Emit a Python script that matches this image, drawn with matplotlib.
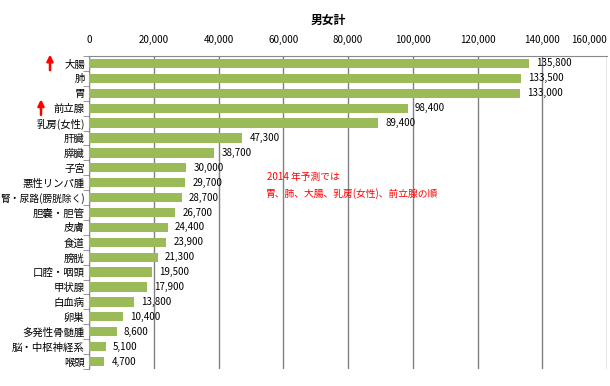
import matplotlib.pyplot as plt
import numpy as np

plt.rcParams['font.family'] = ['Noto Sans CJK JP', 'DejaVu Sans']

sites = ['大腸', '肺', '胃', '前立腺', '乳房(女性)', '肝臓', '膵臓', '子宮',
         '悪性リンパ腫', '腎・尿路(膀胱除く)', '胆嚢・胆管', '皮膚', '食道', '膀胱',
         '口腔・咽頭', '甲状腺', '白血病', '卵巣', '多発性骨髄腫', '脳・中枢神経系', '喉頭']
cases = [135800, 133500, 133000, 98400, 89400, 47300, 38700, 30000,
         29700, 28700, 26700, 24400, 23900, 21300,
         19500, 17900, 13800, 10400, 8600, 5100, 4700]
xticks = list(range(0, 160001, 20000))
arrow_rows = ['大腸', '前立腺']


def main():
    fig = plt.figure(figsize=(6.1, 3.86), dpi=100)
    ax = fig.add_axes([89 / 610, 1 - 369 / 386, (607 - 89) / 610, (369 - 56) / 386])

    y = np.arange(len(sites))
    ax.barh(y, cases, height=0.62, color='#9BBB59', zorder=3)
    for yi, v in zip(y, cases):
        ax.text(v + 2200, yi, f'{v:,}', va='center', ha='left', fontsize=7)

    ax.set_ylim(len(sites) - 0.5, -0.5)
    ax.set_xlim(0, 160000)
    ax.set_yticks(y)
    ax.set_yticklabels(sites, fontsize=7.5)
    ax.get_yticklabels()[sites.index('腎・尿路(膀胱除く)')].set_fontsize(7)
    ax.tick_params(axis='y', length=0, pad=3)
    ax.set_yticks(np.arange(-0.5, len(sites)), minor=True)
    ax.tick_params(axis='y', which='minor', length=4, color='#888888')

    ax.xaxis.tick_top()
    ax.set_xticks(xticks)
    ax.set_xticklabels([f'{t:,}' for t in xticks], fontsize=7)
    ax.get_xticklabels()[-1].set_ha('right')
    ax.tick_params(axis='x', length=0, pad=8)
    ax.grid(axis='x', color='#808080', linewidth=1, zorder=0)

    for side in ['right', 'bottom']:
        ax.spines[side].set_visible(False)
    for side in ['top', 'left']:
        ax.spines[side].set_color('#888888')

    fig.text(328 / 610, 1 - 20 / 386, '男女計', ha='center', va='center',
             fontsize=8.5, fontweight='bold')

    # red arrows pointing up next to two sites
    for name, x in zip(arrow_rows, [50, 41]):
        yi = sites.index(name)
        ax.annotate('', xy=(x / 610, yi - 0.6), xycoords=('figure fraction', 'data'),
                    xytext=(x / 610, yi + 0.45), textcoords=('figure fraction', 'data'),
                    arrowprops=dict(arrowstyle='-|>', color='red', lw=1.8,
                                    mutation_scale=9, shrinkA=0, shrinkB=0),
                    annotation_clip=False)

    ax.text(55000, 7.63, '2014 年予測では', color='red', fontsize=7, va='center')
    ax.text(54700, 8.7, '胃、肺、大腸、乳房(女性)、前立腺の順', color='red',
            fontsize=7, va='center')

    fig.savefig('out.png', dpi=100)


if __name__ == "__main__":
    main()
